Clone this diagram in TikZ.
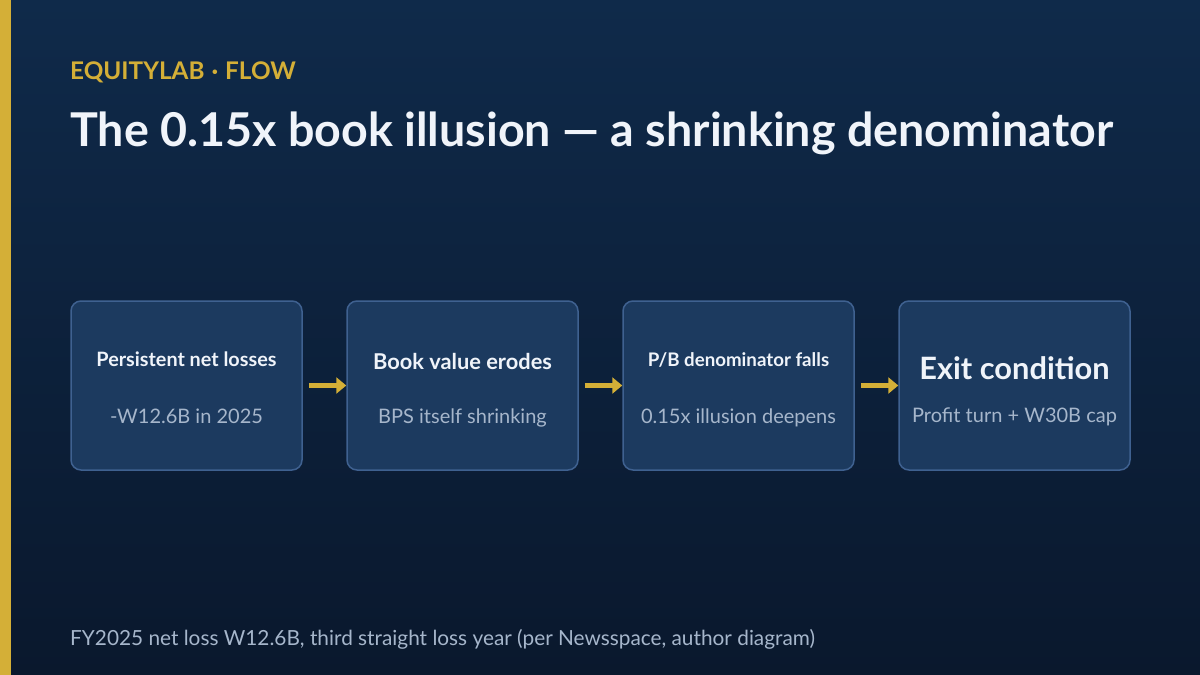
\documentclass[tikz,border=0pt]{standalone}
\usepackage{fontspec}
\setmainfont{Lato}
\usepackage{tikz}
\usetikzlibrary{arrows.meta}

\definecolor{bgtop}{HTML}{0F2A4A}
\definecolor{bgbot}{HTML}{0A182D}
\definecolor{gold}{HTML}{D4AF37}
\definecolor{boxfill}{HTML}{1C3A5F}
\definecolor{boxline}{HTML}{3F6190}
\definecolor{titlewhite}{HTML}{F0F4FA}
\definecolor{subgray}{HTML}{A6B6CB}

\tikzset{
  stage/.style={draw=boxline, fill=boxfill, line width=1.5pt, rounded corners=10pt,
    minimum width=231pt, minimum height=169pt, inner sep=0pt},
  stagehead/.style={text=titlewhite, anchor=base},
  stagesub/.style={text=subgray, font=\fontsize{20}{24}\selectfont, anchor=base},
  flow/.style={draw=gold, line width=5pt, -{Triangle[length=10pt,width=16pt]}, shorten <=6pt}
}

\begin{document}
\begin{tikzpicture}[x=1pt,y=-1pt]
				\useasboundingbox (0,0) rectangle (1200,675);
				\shade[top color=bgtop, bottom color=bgbot] (0,0) rectangle (1200,675);
				\fill[gold] (0,0) rectangle (11,675);
				
				% header
				\node[anchor=base west, inner sep=0pt, text=gold, font=\fontsize{24.3}{28}\selectfont\bfseries] (kicker) at (70,79) {EQUITYLAB\hspace{7pt}·\hspace{7pt}FLOW};
				\node[anchor=base west, inner sep=0pt, text=titlewhite, font=\fontsize{46.6}{52}\selectfont\bfseries] (title) at (70,146) {The 0.15x book illusion --- a shrinking denominator};
				
				% stages
				\node[stage] (b1) at (186.5,385.5) {};
				\node[stage] (b2) at (462.5,385.5) {};
				\node[stage] (b3) at (738.5,385.5) {};
				\node[stage] (b4) at (1014.5,385.5) {};
				
				\node[stagehead, font=\fontsize{19.8}{24}\selectfont\bfseries] (h1) at (186.5,366) {Persistent net losses};
				\node[stagesub] (s1) at (186.5,423) {-W12.6B in 2025};
				
				\node[stagehead, font=\fontsize{21.8}{26}\selectfont\bfseries] (h2) at (462.5,369) {Book value erodes};
				\node[stagesub] (s2) at (462.5,423) {BPS itself shrinking};
				
				\node[stagehead, font=\fontsize{18.7}{22}\selectfont\bfseries] (h3) at (738.5,366) {P/B denominator falls};
				\node[stagesub] (s3) at (738.5,423) {0.15x illusion deepens};
				
				\node[stagehead, font=\fontsize{30.8}{36}\selectfont\bfseries] (h4) at (1014.5,379) {Exit condition};
				\node[stagesub] (s4) at (1014.5,422) {Profit turn + W30B cap};
				
				% arrows
				\draw[flow] (b1) -- (b2);
				\draw[flow] (b2) -- (b3);
				\draw[flow] (b3) -- (b4);
				
				% footnote
				\node[anchor=base west, inner sep=0pt, text=subgray, font=\fontsize{20.8}{24}\selectfont] (note) at (70,645) {FY2025 net loss W12.6B, third straight loss year (per Newsspace, author diagram)};
			\end{tikzpicture}
\end{document}
